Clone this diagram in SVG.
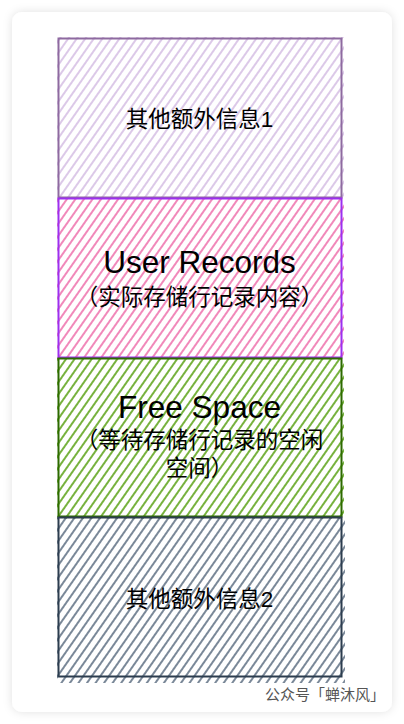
<svg xmlns="http://www.w3.org/2000/svg" width="404" height="724" viewBox="0 0 404 724">
<style>
.cjk{font-family:"Liberation Sans","Noto Sans CJK SC",sans-serif;fill:#000;text-anchor:middle}
.cap{font-size:22.5px}
.big{font-size:31.5px}
.box{fill:none;stroke-width:2}
.wm{font-family:"Noto Sans CJK SC",sans-serif;font-size:15px;fill:#555}
</style>
<defs>
<filter id="sh" x="-10%" y="-10%" width="120%" height="120%">
<feDropShadow dx="0" dy="0" stdDeviation="5" flood-color="#000" flood-opacity="0.12"/>
</filter>
<pattern id="h1" width="7" height="20" patternUnits="userSpaceOnUse" patternTransform="rotate(35)">
<line x1="1" y1="0" x2="1" y2="20" stroke="#d6c0e4" stroke-width="1.7"/>
</pattern>
<pattern id="h2" width="7" height="20" patternUnits="userSpaceOnUse" patternTransform="rotate(35)">
<line x1="1" y1="0" x2="1" y2="20" stroke="#ef74ae" stroke-width="1.7"/>
</pattern>
<pattern id="h3" width="7" height="20" patternUnits="userSpaceOnUse" patternTransform="rotate(35)">
<line x1="1" y1="0" x2="1" y2="20" stroke="#5fa41c" stroke-width="1.7"/>
</pattern>
<pattern id="h4" width="7" height="20" patternUnits="userSpaceOnUse" patternTransform="rotate(35)">
<line x1="1" y1="0" x2="1" y2="20" stroke="#637386" stroke-width="1.7"/>
</pattern>
</defs>
<rect width="404" height="724" fill="#ffffff"/>
<rect x="12" y="12" width="380" height="700" rx="10" fill="#ffffff" filter="url(#sh)"/>
<g id="node-info1">
<rect x="57" y="37" width="287" height="162" fill="url(#h1)"/>
<rect class="box" x="58.5" y="38.5" width="283" height="159" stroke="#8e6aa0"/>
<text class="cjk cap" x="199.5" y="127">其他额外信息1</text>
</g>
<g id="node-user-records">
<rect x="57" y="198" width="287" height="161" fill="url(#h2)"/>
<rect class="box" x="58.5" y="198.5" width="283" height="159" stroke="#9d2ff0"/>
<text class="cjk big" x="199.5" y="273">User Records</text>
<text class="cjk cap" x="199.5" y="305">（实际存储行记录内容）</text>
</g>
<g id="node-free-space">
<rect x="57" y="358" width="287" height="161" fill="url(#h3)"/>
<rect class="box" x="58.5" y="358.5" width="283" height="158" stroke="#2d6a00"/>
<text class="cjk big" x="199.5" y="418">Free Space</text>
<text class="cjk cap" x="199.5" y="448">（等待存储行记录的空闲</text>
<text class="cjk cap" x="199.5" y="476">空间）</text>
</g>
<g id="node-info2">
<rect x="57" y="517" width="288" height="166" fill="url(#h4)"/>
<rect class="box" x="58.5" y="517.5" width="283" height="159" stroke="#2c3d4f"/>
<text class="cjk cap" x="199.5" y="607">其他额外信息2</text>
</g>
<g id="connectors"></g>
<text class="wm" x="265" y="700">公众号「蝉沐风」</text>
</svg>
